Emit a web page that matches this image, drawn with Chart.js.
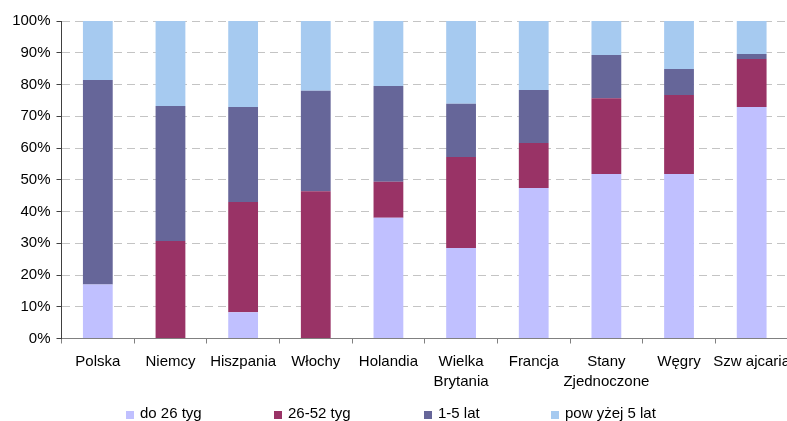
<!DOCTYPE html>
<html>
<head>
<meta charset="utf-8">
<script src="https://cdn.jsdelivr.net/npm/chart.js@4/dist/chart.umd.min.js"></script>
<style>
  html, body { margin: 0; padding: 0; background: #fff; overflow: hidden; }
  #wrap { position: relative; width: 800px; height: 421px; }
</style>
</head>
<body>
<div id="wrap"><canvas id="chart" width="800" height="421"></canvas></div>
<script>
// Categories (countries)
const countries = ['Polska', 'Niemcy', 'Hiszpania', 'Włochy', 'Holandia', ['Wielka', 'Brytania'], 'Francja', ['Stany', 'Zjednoczone'], 'Węgry', 'Szw ajcaria'];

// Share of unemployed by duration (%)
const upTo26w   = [17.0, 0.0, 8.3, 0.0, 38.0, 28.5, 47.4, 51.8, 51.8, 72.9];
const w26to52   = [0.0, 30.7, 34.7, 46.4, 11.4, 28.7, 14.2, 23.9, 24.9, 15.1];
const y1to5     = [64.4, 42.5, 29.9, 31.6, 30.1, 16.7, 16.7, 13.6, 8.2, 1.6];
const over5y    = [18.6, 26.8, 27.1, 22.0, 20.5, 26.1, 21.7, 10.7, 15.1, 10.4];

const seriesNames = ['do 26 tyg', '26-52 tyg', '1-5 lat', 'pow yżej 5 lat'];
const seriesColors = ['#C0C0FF', '#993366', '#666699', '#A6CAF0'];

const FONT = 'Liberation Sans, Arial, sans-serif';

// Legend drawn along the bottom edge
const legendX = [126, 274, 424, 551];
const bottomLegend = {
  id: 'bottomLegend',
  afterDraw(chart) {
    const c = chart.ctx;
    c.save();
    c.font = '15px ' + FONT;
    c.textBaseline = 'alphabetic';
    chart.data.datasets.forEach((ds, i) => {
      c.fillStyle = ds.backgroundColor;
      c.fillRect(legendX[i], 411, 8, 8);
      c.fillStyle = '#000';
      c.fillText(ds.label, legendX[i] + 14, 418);
    });
    c.restore();
  }
};

const data = [upTo26w, w26to52, y1to5, over5y];

new Chart(document.getElementById('chart'), {
  type: 'bar',
  data: {
    labels: countries,
    datasets: data.map((vals, i) => ({
      label: seriesNames[i],
      data: vals,
      backgroundColor: seriesColors[i],
      borderWidth: 0,
      categoryPercentage: 1,
      barPercentage: 0.41
    }))
  },
  options: {
    responsive: false,
    animation: false,
    layout: { padding: { top: 21, right: 12, bottom: 0, left: 0 } },
    plugins: { legend: { display: false }, tooltip: { enabled: false } },
    scales: {
      x: {
        stacked: true,
        afterFit: s => { s.height = 82.5; },
        border: { display: true, color: '#808080', width: 1 },
        grid: { offset: true, drawOnChartArea: false, drawTicks: true, tickLength: 5, color: '#808080' },
        ticks: { color: '#000', font: { family: FONT, size: 15, lineHeight: 1.33 }, padding: 8, maxRotation: 0, autoSkip: false }
      },
      y: {
        stacked: true,
        min: 0, max: 100,
        afterFit: s => { s.width = 61.5; },
        border: { display: true, color: '#404040', width: 1, dash: [8, 5] },
        grid: { color: '#C4C4C4', tickColor: '#404040', tickLength: 5, tickBorderDash: [] },
        ticks: { stepSize: 10, color: '#000', padding: 6, font: { family: FONT, size: 15 }, callback: v => v + '%' }
      }
    }
  },
  plugins: [bottomLegend]
});
</script>
</body>
</html>
